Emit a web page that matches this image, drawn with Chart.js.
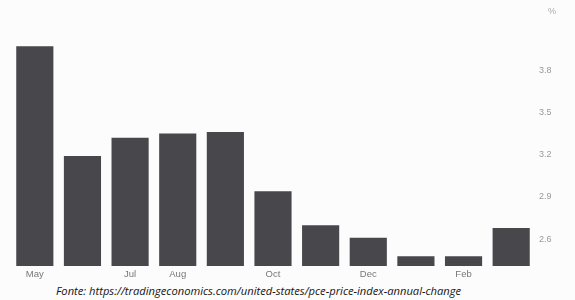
<!DOCTYPE html>
<html>
<head>
<meta charset="utf-8">
<script src="https://cdn.jsdelivr.net/npm/chart.js@4"></script>
<style>
    body { margin: 0; background: #fcfcfc; }
    .wrap { position: relative; width: 575px; height: 300px; overflow: hidden; }
    .chart-box { position: absolute; left: 0; top: 0; width: 575px; height: 282px; }
    .source {
        position: absolute; left: 56px; top: 283px;
        font-family: "Open Sans", sans-serif; font-style: italic;
        font-size: 11.2px; color: #151515; white-space: nowrap;
    }
</style>
</head>
<body>
<div class="wrap">
    <div class="chart-box"><canvas id="chart"></canvas></div>
    <div class="source">Fonte: https://tradingeconomics.com/united-states/pce-price-index-annual-change</div>
</div>
<script>
const months = ["May", "Jun", "Jul", "Aug", "Sep", "Oct", "Nov", "Dec", "Jan", "Feb", "Mar"];
const tickLabels = ["May", "", "Jul", "Aug", "", "Oct", "", "Dec", "", "Feb", ""];
const pceValues = [3.97, 3.19, 3.32, 3.35, 3.36, 2.94, 2.70, 2.61, 2.48, 2.48, 2.68];
const yTicks = [2.6, 2.9, 3.2, 3.5, 3.8];

// small "%" label above the right axis
const unitLabel = {
    id: "unitLabel",
    afterDraw(chart) {
        const ys = chart.scales.y;
        const ctx = chart.ctx;
        ctx.save();
        ctx.fillStyle = "#aaa";
        ctx.font = "9px 'Liberation Sans', sans-serif";
        ctx.textAlign = "left";
        ctx.textBaseline = "middle";
        ctx.fillText("%", ys.left + 13, 12);
        ctx.restore();
    }
};

new Chart(document.getElementById("chart"), {
    type: "bar",
    data: {
        labels: months,
        datasets: [{
            data: pceValues,
            backgroundColor: "#48484c",
            borderWidth: 0,
            barPercentage: 0.78,
            categoryPercentage: 1,
        }],
    },
    options: {
        responsive: true,
        maintainAspectRatio: false,
        animation: false,
        layout: { padding: { top: 25, left: 11, right: 0, bottom: 0 } },
        plugins: { legend: { display: false }, tooltip: { enabled: false } },
        scales: {
            x: {
                grid: { display: false, drawTicks: false },
                border: { display: false },
                afterFit: (s) => { s.height = 16; },
                ticks: {
                    autoSkip: false, maxRotation: 0, padding: 3,
                    color: "#777",
                    font: { family: "'Liberation Sans', sans-serif", size: 9.5 },
                    callback: (v, i) => tickLabels[i],
                },
            },
            y: {
                position: "right",
                min: 2.41,
                max: 4.12,
                grid: { display: false, drawTicks: false },
                border: { display: false },
                afterFit: (s) => { s.width = 40; },
                afterBuildTicks: (s) => { s.ticks = yTicks.map((v) => ({ value: v })); },
                ticks: {
                    padding: 4,
                    color: "#999",
                    font: { family: "'Liberation Sans', sans-serif", size: 9 },
                    callback: (v) => v.toFixed(1),
                },
            },
        },
    },
    plugins: [unitLabel],
});
</script>
</body>
</html>
